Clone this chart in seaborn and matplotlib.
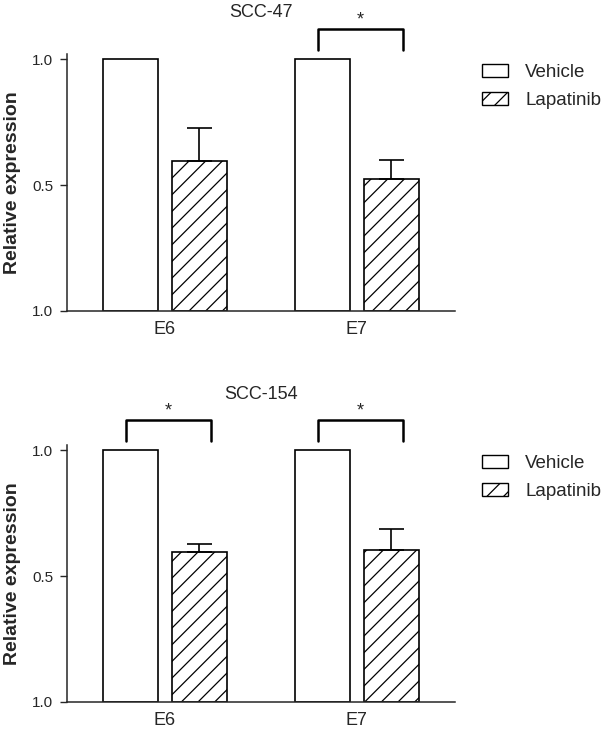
import pandas as pd
import matplotlib
matplotlib.use("Agg")
import matplotlib.pyplot as plt
import seaborn as sns
from matplotlib.patches import Patch

# Data
genes = ["E6", "E7"]
treatments = ["Vehicle", "Lapatinib"]

scc47_vehicle = [1.0, 1.0]
scc47_lapatinib = [0.595, 0.524]
scc47_lap_err = [0.131, 0.076]
scc47_sig = [False, True]

scc154_vehicle = [1.0, 1.0]
scc154_lapatinib = [0.595, 0.603]
scc154_lap_err = [0.032, 0.084]
scc154_sig = [True, True]

ytick_vals = [0.0, 0.5, 1.0]
ytick_labels = ["1.0", "0.5", "1.0"]

sns.set_style("ticks")
plt.rcParams["font.family"] = ["Liberation Sans", "DejaVu Sans"]
plt.rcParams["hatch.linewidth"] = 0.9


def make_df(veh, lap):
    rows = []
    for g, v, l in zip(genes, veh, lap):
        rows.append({"gene": g, "treatment": "Vehicle", "value": v})
        rows.append({"gene": g, "treatment": "Lapatinib", "value": l})
    return pd.DataFrame(rows)


def panel(ax, title, veh, lap, err, sig, title_pad):
    df = make_df(veh, lap)
    sns.barplot(data=df, x="gene", y="value", hue="treatment", order=genes,
                hue_order=treatments, palette={"Vehicle": "white", "Lapatinib": "white"},
                edgecolor="black", linewidth=1.2, width=0.717, gap=0.2,
                errorbar=None, legend=False, ax=ax)
    # hatch the lapatinib bars
    for bar in ax.containers[1]:
        bar.set_hatch("//")
    # upward-only error bars on lapatinib
    xs = [b.get_x() + b.get_width() / 2 for b in ax.containers[1]]
    ax.errorbar(xs, lap, yerr=[[0] * len(err), err], fmt="none", ecolor="black",
                elinewidth=1.2, capsize=9, capthick=1.2, zorder=3)

    # significance brackets
    for i, s in enumerate(sig):
        if not s:
            continue
        x0, x1 = i - 0.2, i + 0.24
        ax.plot([x0, x0, x1, x1], [1.036, 1.119, 1.119, 1.036], color="black",
                lw=1.8, clip_on=False, solid_joinstyle="round", solid_capstyle="round")
        ax.text((x0 + x1) / 2, 1.155, "*", ha="center", va="center", fontsize=13)

    ax.set_xlim(-0.51, 1.51)
    ax.set_ylim(0, 1.02)
    ax.set_yticks(ytick_vals)
    ax.set_yticklabels(ytick_labels)
    ax.set_xlabel("")
    ax.set_ylabel("Relative expression", fontsize=14, fontweight="bold")
    ax.yaxis.set_label_coords(-0.119, 0.5)
    ax.set_title(title, fontsize=13, pad=title_pad)
    ax.tick_params(axis="x", length=0, labelsize=13, pad=7.5)
    ax.tick_params(axis="y", length=5, width=1, labelsize=11, pad=5)
    for sp in ["top", "right"]:
        ax.spines[sp].set_visible(False)
    for sp in ["left", "bottom"]:
        ax.spines[sp].set_linewidth(1.1)

    handles = [Patch(facecolor="white", edgecolor="black", label="Vehicle"),
               Patch(facecolor="white", edgecolor="black", hatch="//", label="Lapatinib")]
    ax.legend(handles=handles, loc="upper left", bbox_to_anchor=(1.07, 0.963),
              frameon=False, fontsize=13.5, handlelength=1.4, handleheight=0.7,
              handletextpad=0.9, labelspacing=0.62, borderaxespad=0, borderpad=0)


fig = plt.figure(figsize=(6.05, 7.30), dpi=100)
ax1 = fig.add_axes([0.1107, 0.574, 0.641, 0.352])
ax2 = fig.add_axes([0.1107, 0.0384, 0.641, 0.352])

panel(ax1, "SCC-47", scc47_vehicle, scc47_lapatinib, scc47_lap_err, scc47_sig, 27)
panel(ax2, "SCC-154", scc154_vehicle, scc154_lapatinib, scc154_lap_err, scc154_sig, 33)

fig.savefig("out.png", dpi=100)
